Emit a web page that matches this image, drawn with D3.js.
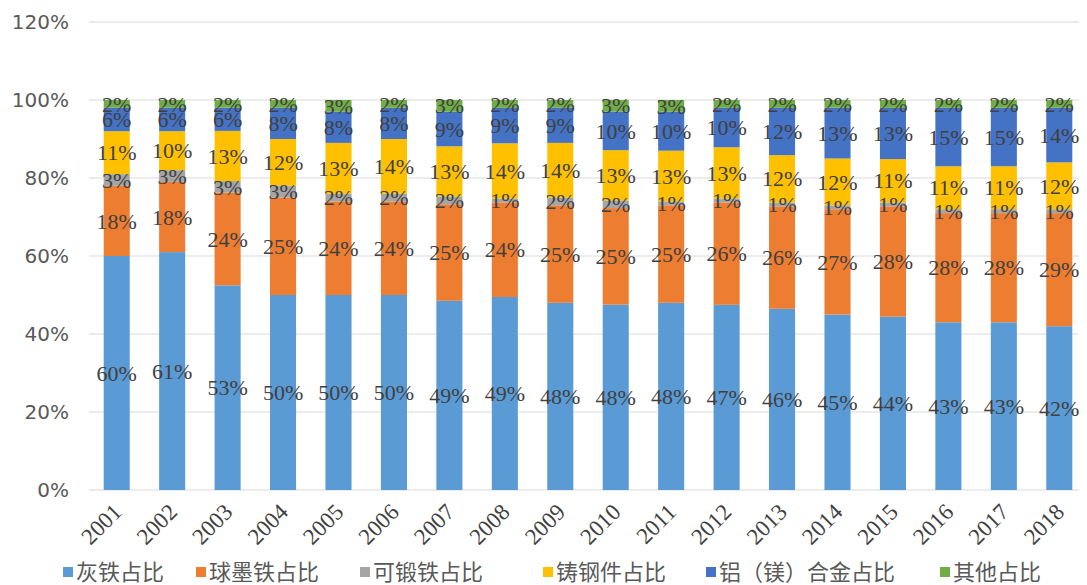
<!DOCTYPE html>
<html>
<head>
<meta charset="utf-8">
<script src="https://cdn.jsdelivr.net/npm/d3@7"></script>
<style>
  body { margin: 0; background: #fff; }
</style>
</head>
<body>
<div id="chart"></div>
<script>
const years = ["2001","2002","2003","2004","2005","2006","2007","2008","2009","2010","2011","2012","2013","2014","2015","2016","2017","2018"];
const seriesNames = ["灰铁占比", "球墨铁占比", "可锻铁占比", "铸钢件占比", "铝（镁）合金占比", "其他占比"];
const grayIron   = [60, 61, 53, 50, 50, 50, 49, 49, 48, 48, 48, 47, 46, 45, 44, 43, 43, 42];
const ductile    = [18, 18, 24, 25, 24, 24, 25, 24, 25, 25, 25, 26, 26, 27, 28, 28, 28, 29];
const malleable  = [3, 3, 3, 3, 2, 2, 2, 1, 2, 2, 1, 1, 1, 1, 1, 1, 1, 1];
const steel      = [11, 10, 13, 12, 13, 14, 13, 14, 14, 13, 13, 13, 12, 12, 11, 11, 11, 12];
const aluminium  = [6, 6, 6, 8, 8, 8, 9, 9, 9, 10, 10, 10, 12, 13, 13, 15, 15, 14];
const other      = [2, 2, 2, 2, 3, 2, 3, 2, 2, 3, 3, 2, 2, 2, 2, 2, 2, 2];
const yTicks = [0, 0.2, 0.4, 0.6, 0.8, 1.0, 1.2];
const colors = ["#5B9BD5", "#ED7D31", "#A5A5A5", "#FFC000", "#4472C4", "#70AD47"];

const W = 1087, H = 585;
const margin = {top: 22, right: 0, bottom: 95, left: 89};
const width = W - margin.left - margin.right;
const height = H - margin.top - margin.bottom;

const series = [grayIron, ductile, malleable, steel, aluminium, other];
const rows = years.map((y, i) => {
    const r = {year: y};
    series.forEach((s, k) => r["s" + k] = s[i]);
    return r;
});
const keys = series.map((s, k) => "s" + k);
// 100% stacked columns
const stacked = d3.stack().keys(keys).offset(d3.stackOffsetExpand)(rows);

const svg = d3.select("#chart").append("svg")
    .attr("width", W).attr("height", H)
    .append("g")
    .attr("transform", "translate(" + margin.left + "," + margin.top + ")");

const x = d3.scaleBand().domain(years).range([0, width]).paddingInner(0.53).paddingOuter(0.265);
const y = d3.scaleLinear().domain([0, 1.2]).range([height, 0]);

// gridlines
svg.append("g")
    .selectAll("line")
    .data(yTicks)
    .enter().append("line")
    .attr("x1", 0).attr("x2", width - 8)
    .attr("y1", d => y(d)).attr("y2", d => y(d))
    .style("stroke", "#d9d9d9").style("stroke-width", 1);

const yAxis = d3.axisLeft(y).tickValues(yTicks).tickFormat(d3.format(".0%")).tickSize(0).tickPadding(20);
const yg = svg.append("g").call(yAxis);
yg.select(".domain").remove();
yg.selectAll("text")
    .style("font-family", "'DejaVu Sans', sans-serif")
    .style("font-size", "20px")
    .style("fill", "#595959");

// bars
const layers = svg.selectAll(".layer")
    .data(stacked)
    .enter().append("g")
    .attr("class", "layer")
    .style("fill", (d, i) => colors[i]);

layers.selectAll("rect")
    .data(d => d)
    .enter().append("rect")
    .attr("x", d => x(d.data.year))
    .attr("y", d => y(d[1]))
    .attr("height", d => y(d[0]) - y(d[1]))
    .attr("width", x.bandwidth());

// labels
svg.selectAll(".lblg")
    .data(stacked)
    .enter().append("g")
    .attr("class", "lblg")
    .each(function(layer) {
        d3.select(this).selectAll("text")
            .data(layer)
            .enter().append("text")
            .attr("x", d => x(d.data.year) + x.bandwidth() / 2)
            .attr("y", d => y((d[0] + d[1]) / 2))
            .attr("dy", ".35em")
            .attr("text-anchor", "middle")
            .style("font-family", "'Liberation Serif', 'DejaVu Serif', serif")
            .style("font-size", "22px")
            .style("fill", "#404040")
            .text(d => d.data[layer.key] + "%");
    });

// x axis
const xAxis = d3.axisBottom(x).tickSize(0).tickPadding(0);
const xg = svg.append("g")
    .attr("transform", "translate(0," + height + ")")
    .call(xAxis);
xg.select(".domain").remove();
xg.selectAll("text")
    .attr("transform", "translate(-5,12) rotate(-45)")
    .attr("dy", "0.7em")
    .attr("x", 0).attr("y", 0)
    .style("text-anchor", "end")
    .style("font-family", "'Liberation Serif', serif")
    .style("font-size", "23px")
    .style("fill", "#404040");

// legend
const legendX = [63, 196, 360, 543, 706, 940];
const legend = d3.select("svg").append("g")
    .attr("transform", "translate(0," + 572 + ")");
const items = legend.selectAll("g")
    .data(seriesNames)
    .enter().append("g")
    .attr("transform", (d, i) => "translate(" + legendX[i] + ",0)");
items.append("rect")
    .attr("x", 0).attr("y", -5)
    .attr("width", 10).attr("height", 10)
    .style("fill", (d, i) => colors[i]);
items.append("text")
    .attr("x", 13).attr("y", 0)
    .attr("dy", "0.36em")
    .style("font-family", "'Noto Sans CJK SC', sans-serif")
    .style("font-size", "22px")
    .style("fill", "#595959")
    .text(d => d);
</script>
</body>
</html>
